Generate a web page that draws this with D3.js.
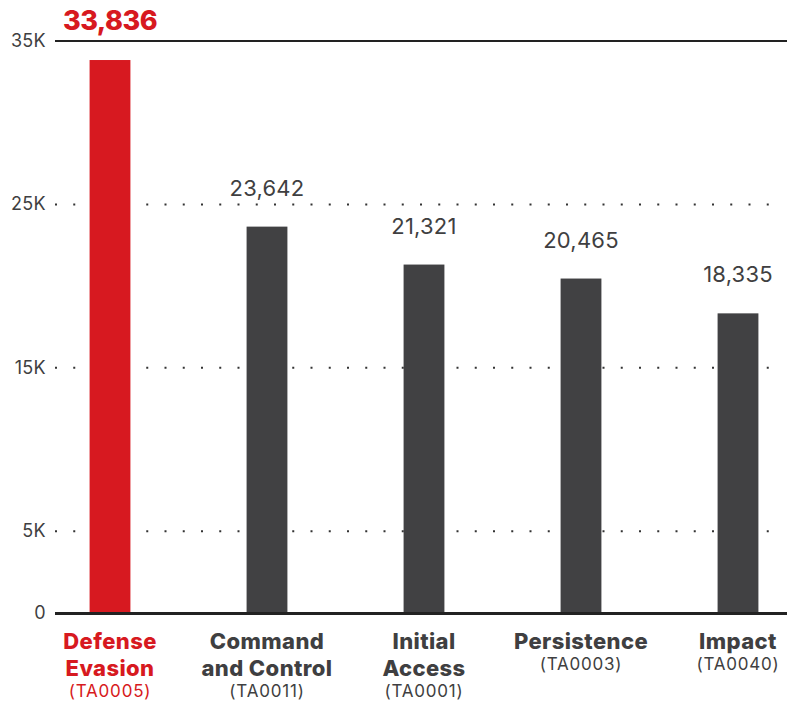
<!DOCTYPE html>
<html><head><meta charset="utf-8">
<script src="https://cdn.jsdelivr.net/npm/d3@7"></script>
<style>body{margin:0;background:#fff;} svg{display:block;font-family:Inter,"Noto Sans",sans-serif;}</style>
</head><body><svg id="c" width="787" height="702"></svg>
<script>
const names = [["Defense","Evasion"],["Command","and Control"],["Initial","Access"],["Persistence"],["Impact"]];
const codes = ["(TA0005)","(TA0011)","(TA0001)","(TA0003)","(TA0040)"];
const values = [33836, 23642, 21321, 20465, 18335];
const tickValues = [0, 5000, 15000, 25000, 35000];
const tickLabels = ["0","5K","15K","25K","35K"];
const highlight = [true,false,false,false,false];

const svg = d3.select("#c");
const RED = "#d71920", DARK = "#414143", TXT = "#3f3f41";
const y = d3.scaleLinear().domain([0,35000]).range([613,41]);
const x = d3.scaleBand().domain(d3.range(values.length)).range([31.5,816.5]).paddingInner(0.74).paddingOuter(0.37);

const grid = tickValues.filter(v=>v>0 && v<35000);
svg.append("g").selectAll("line").data(grid).join("line")
  .attr("x1",55).attr("x2",775).attr("y1",d=>y(d)).attr("y2",d=>y(d))
  .attr("stroke","#333").attr("stroke-width",2).attr("stroke-dasharray","2,16.25");

svg.append("line").attr("x1",55).attr("x2",787).attr("y1",y(35000)).attr("y2",y(35000))
  .attr("stroke","#222").attr("stroke-width",2);

svg.append("g").selectAll("rect").data(values).join("rect")
  .attr("x",(d,i)=>x(i)).attr("width",x.bandwidth())
  .attr("y",d=>y(d)).attr("height",d=>y(0)-y(d))
  .attr("fill",(d,i)=>highlight[i]?RED:DARK);

svg.append("line").attr("x1",55).attr("x2",787).attr("y1",y(0)+0.5).attr("y2",y(0)+0.5)
  .attr("stroke","#222").attr("stroke-width",3);

svg.append("g").selectAll("text").data(tickValues).join("text")
  .attr("x",46).attr("y",d=>y(d)+6).attr("text-anchor","end")
  .attr("font-size",18).attr("fill",TXT).attr("letter-spacing","0.3")
  .text((d,i)=>tickLabels[i]);

svg.append("g").selectAll("text").data(values).join("text")
  .attr("x",(d,i)=>x(i)+x.bandwidth()/2).attr("y",(d,i)=>y(d)-(highlight[i]?30:31))
  .attr("text-anchor","middle")
  .attr("font-size",(d,i)=>highlight[i]?27:22)
  .attr("font-weight",(d,i)=>highlight[i]?800:400)
  .attr("fill",(d,i)=>highlight[i]?RED:TXT)
  .attr("letter-spacing",(d,i)=>highlight[i]?"-0.5":"0.2")
  .text(d=>d3.format(",")(d));

const cat = svg.append("g").selectAll("g").data(values).join("g")
  .attr("transform",(d,i)=>`translate(${x(i)+x.bandwidth()/2},0)`);
cat.each(function(d,i){
  const g = d3.select(this);
  const col = highlight[i]?RED:TXT;
  names[i].forEach((n,k)=>{
    g.append("text").attr("y",649+k*27).attr("text-anchor","middle")
      .attr("font-size",22).attr("font-weight",800).attr("fill",col)
      .attr("letter-spacing","0.4").text(n);
  });
  g.append("text").attr("y",649+(names[i].length-1)*27+21).attr("text-anchor","middle")
    .attr("font-size",17).attr("fill",col).attr("letter-spacing","0.8").text(codes[i]);
});
</script></body></html>
